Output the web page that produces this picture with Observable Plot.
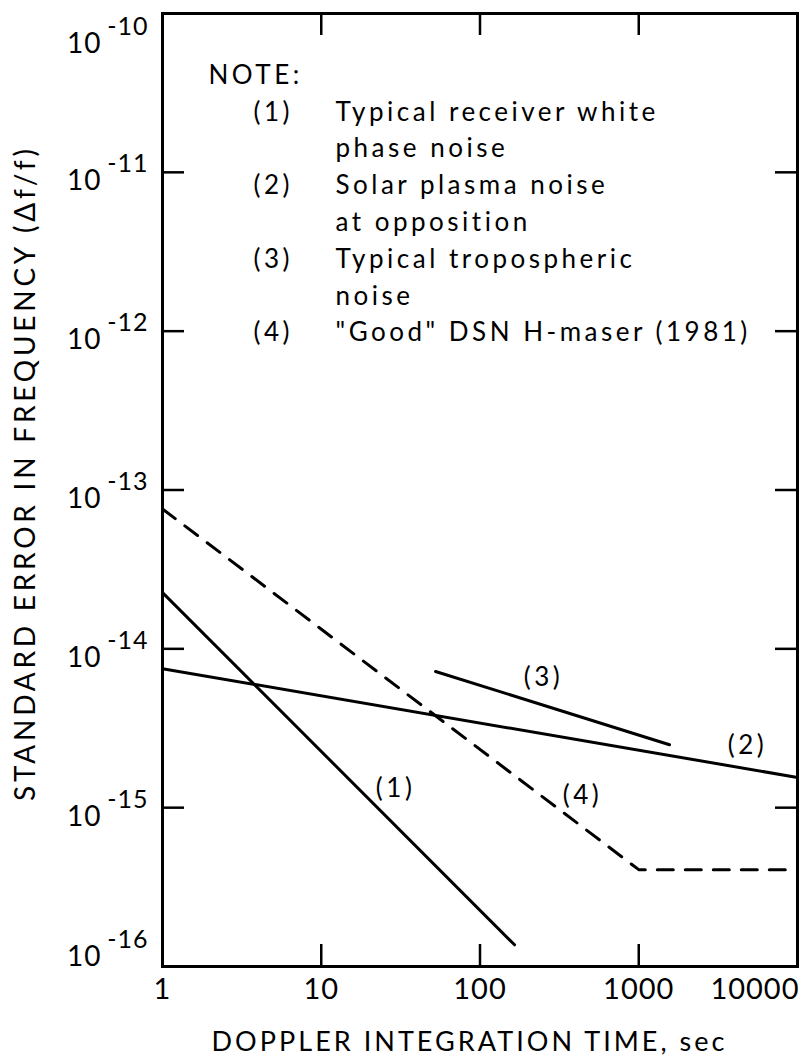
<!DOCTYPE html>
<html><head><meta charset="utf-8">
<script src="https://cdn.jsdelivr.net/npm/d3@7"></script>
<script src="https://cdn.jsdelivr.net/npm/@observablehq/plot@0.6"></script>
<style>
html,body{margin:0;padding:0;background:#fff;}
#chart svg{display:block;}
</style></head><body><div id="chart"></div>
<script>
// ---- data ----
const xTicks = [1, 10, 100, 1000, 10000];
const xTickLabels = ["1", "10", "100", "1000", "10000"];
const yTicks = [1e-10, 1e-11, 1e-12, 1e-13, 1e-14, 1e-15, 1e-16];
const yTickBase = "10";
const yTickExponents = ["-10", "-11", "-12", "-13", "-14", "-15", "-16"];

const receiverTime = [1, 165];
const receiverError = [2.26e-14, 1.37e-16];
const plasmaTime = [1, 10000];
const plasmaError = [7.5e-15, 1.55e-15];
const tropoTime = [52.5, 1563];
const tropoError = [7.2e-15, 2.49e-15];
const maserTime = [1, 1000, 9000];
const maserError = [7.6e-14, 4.07e-16, 4.07e-16];

const curveLabels = ["(1)", "(2)", "(3)", "(4)"];
const curveLabelTime = [29.4, 4840, 251, 442];
const curveLabelError = [1.32e-15, 2.46e-15, 6.59e-15, 1.19e-15];

const noteTitle = "NOTE:";
const noteNumbers = ["(1)", "(2)", "(3)", "(4)"];
const noteTexts = [
  ["Typical receiver white", "phase noise"],
  ["Solar plasma noise", "at opposition"],
  ["Typical tropospheric", "noise"],
  ["\"Good\" DSN H-maser (1981)"]
];

const xTitle = "DOPPLER INTEGRATION TIME, sec";
const yTitle = "STANDARD ERROR IN FREQUENCY (Δf/f)";

// ---- build tables ----
const toRows = (series, ts, es) => ts.map((t, i) => ({series, t, e: es[i]}));
const solidLines = [
  ...toRows("1", receiverTime, receiverError),
  ...toRows("2", plasmaTime, plasmaError),
  ...toRows("3", tropoTime, tropoError)
];
const maserLine = toRows("4", maserTime, maserError);
const curveLabelRows = curveLabels.map((label, i) => ({label, t: curveLabelTime[i], e: curveLabelError[i]}));
const xTickRows = xTicks.map((v, i) => ({v, label: xTickLabels[i]}));
const yTickRows = yTicks.map((v, i) => ({v, exp: yTickExponents[i], i}));
const noteRows = [];
noteTexts.forEach((lines, k) => lines.forEach((line, j) => noteRows.push({num: j === 0 ? noteNumbers[k] : "", text: line})));

// ---- layout ----
const W = 803, H = 1061;
const mT = 13, mB = 95, mL = 162, mR = 6;
const plotW = W - mL - mR, plotH = H - mT - mB;
const tickLen = 22;
const font = "Lato";

const marks = [
  Plot.line(solidLines, {x: "t", y: "e", z: "series", stroke: "black", strokeWidth: 3, strokeLinecap: "round"}),
  Plot.line(maserLine, {x: "t", y: "e", stroke: "black", strokeWidth: 3, strokeDasharray: "16,12"}),
  Plot.tickX(xTicks, {x: d => d, insetTop: plotH - tickLen, stroke: "black", strokeWidth: 2.5}),
  Plot.tickX(xTicks, {x: d => d, insetBottom: plotH - tickLen, stroke: "black", strokeWidth: 2.5}),
  Plot.tickY(yTicks, {y: d => d, insetRight: plotW - tickLen, stroke: "black", strokeWidth: 2.5}),
  Plot.tickY(yTicks, {y: d => d, insetLeft: plotW - tickLen, stroke: "black", strokeWidth: 2.5}),
  Plot.frame({stroke: "black", strokeWidth: 3}),
  // x tick labels
  Plot.text(xTickRows.slice(0, -1), {x: "v", text: "label", frameAnchor: "bottom", textAnchor: "middle", lineAnchor: "bottom", dy: 32, fontSize: 29, fill: "black"}),
  Plot.text(xTickRows.slice(-1), {x: "v", text: "label", frameAnchor: "bottom", lineAnchor: "bottom", textAnchor: "end", dx: 2, dy: 32, fontSize: 29, fill: "black"}),
  // curve labels
  Plot.text(curveLabelRows, {x: "t", y: "e", text: "label", textAnchor: "middle", lineAnchor: "middle", fontSize: 26, fill: "black"}),
  // note title
  Plot.text([noteTitle], {text: d => d, frameAnchor: "top-left", textAnchor: "start", lineAnchor: "bottom", dx: 46, dy: 70, fontSize: 26, fill: "black"}),
  // x title
  Plot.text([xTitle], {text: d => d, frameAnchor: "bottom", textAnchor: "middle", lineAnchor: "bottom", dx: -12, dy: 84, fontSize: 27, fill: "black"}),
  // y title
  Plot.text([yTitle], {text: d => d, frameAnchor: "left", textAnchor: "middle", rotate: -90, lineAnchor: "middle", dx: -136, dy: -15, fontSize: 28, fill: "black"})
];

// y tick labels: interior ones normal, top one pushed down, bottom one pushed up
const groups = [
  {rows: yTickRows.filter(r => r.i === 0), shift: 21},
  {rows: yTickRows.filter(r => r.i > 0 && r.i < yTicks.length - 1), shift: 0},
  {rows: yTickRows.filter(r => r.i === yTicks.length - 1), shift: -19}
];
for (const g of groups) {
  marks.push(Plot.text(g.rows, {x: () => 1, y: "v", text: () => yTickBase, textAnchor: "end", lineAnchor: "bottom", dx: -61, dy: 18 + g.shift, fontSize: 28, fill: "black"}));
  marks.push(Plot.text(g.rows, {x: () => 1, y: "v", text: "exp", textAnchor: "end", lineAnchor: "bottom", dx: -14, dy: 0 + g.shift, fontSize: 25, fill: "black"}));
}
// note rows
noteRows.forEach((row, i) => {
  const dy = 107 + i * 36.8;
  if (row.num) marks.push(Plot.text([row.num], {text: d => d, frameAnchor: "top-left", textAnchor: "start", lineAnchor: "bottom", dx: 91, dy, fontSize: 26, fill: "black"}));
  marks.push(Plot.text([row.text], {text: d => d, frameAnchor: "top-left", textAnchor: "start", lineAnchor: "bottom", dx: 173, dy, fontSize: 26, fill: "black"}));
});

const chart = Plot.plot({
  width: W, height: H,
  marginTop: mT, marginBottom: mB, marginLeft: mL, marginRight: mR,
  x: {type: "log", domain: [1, 10000], axis: null},
  y: {type: "log", domain: [1e-16, 1e-10], axis: null},
  style: {fontFamily: font, color: "black", background: "white", letterSpacing: "3.5px"},
  marks
});

// typographic spacing: tick labels tighter, titles stretched to the reference widths
const tickTexts = new Set([...xTickLabels, yTickBase, ...yTickExponents]);
d3.select(chart).selectAll("text").each(function () {
  const t = this.textContent;
  if (tickTexts.has(t)) this.style.letterSpacing = "1px";
  else if (t === yTitle) { this.style.letterSpacing = "0px"; this.setAttribute("textLength", 652); this.setAttribute("lengthAdjust", "spacing"); }
  else if (t === xTitle) { this.style.letterSpacing = "0px"; this.setAttribute("textLength", 513); this.setAttribute("lengthAdjust", "spacing"); }
});
document.getElementById("chart").appendChild(chart);
</script>
</body></html>
